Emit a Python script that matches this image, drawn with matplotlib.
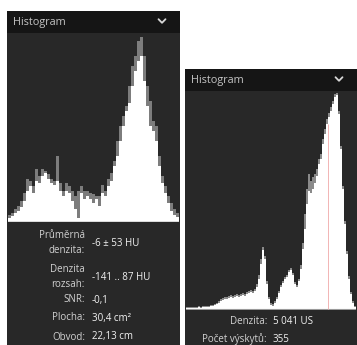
import matplotlib
matplotlib.use("Agg")
import matplotlib.pyplot as plt
from matplotlib.patches import Rectangle

W, H = 357, 345

# ---- data (heights, arbitrary count units) ----
left_body = [3, 5, 8, 10, 14, 20, 30, 35, 28, 40, 38, 45, 48, 42, 38, 36, 40, 30, 25, 30,
             28, 20, 12, 3, 28, 22, 25, 22, 18, 22, 15, 28, 25, 35, 40, 55, 65, 80, 95, 110,
             118, 135, 150, 160, 165, 140, 115, 95, 90, 80, 55, 38, 28, 18, 10, 6, 4]
left_peak = [6, 8, 12, 15, 20, 28, 42, 40, 35, 52, 45, 52, 50, 47, 42, 40, 65, 38, 30, 38,
             35, 30, 25, 30, 35, 30, 30, 28, 27, 25, 25, 36, 30, 42, 48, 60, 80, 95, 105, 115,
             135, 155, 165, 180, 184, 165, 135, 120, 100, 95, 65, 45, 35, 25, 18, 12, 8]

right_body = [1, 1, 1, 1, 1, 1, 2, 1, 2, 2, 2, 2,
              3, 3, 4, 5, 6, 8, 9, 10, 10, 11, 12, 11, 12, 13, 12, 13, 14, 13, 15, 16,
              17, 16, 18, 22, 30, 45, 59, 50, 25, 10, 4, 3, 6, 10, 16, 22, 26, 30, 32,
              37, 39, 34, 25, 22, 28, 40, 60, 80, 105, 118, 116, 120, 126, 133, 145, 150,
              165, 175, 185, 192, 198, 205, 212, 214, 195, 160, 120, 85, 55, 30, 15, 6, 2]
right_peak = [2, 2, 2, 2, 2, 2, 3, 2, 3, 3, 3, 3,
              4, 4, 5, 6, 8, 10, 11, 12, 12, 13, 14, 13, 14, 15, 14, 15, 16, 15, 17, 18,
              19, 18, 20, 25, 34, 50, 62, 53, 28, 12, 6, 5, 8, 12, 18, 24, 28, 32, 34,
              39, 41, 36, 27, 24, 30, 44, 66, 95, 120, 135, 128, 132, 135, 140, 150, 155,
              170, 180, 190, 196, 202, 208, 215, 216, 198, 163, 123, 88, 58, 33, 17, 8, 3]
cursor_bin = 70

left_labels = ["Průměrná\ndenzita:", "Denzita\nrozsah:", "SNR:", "Plocha:", "Obvod:"]
left_values = ["-6 ± 53 HU", "-141 .. 87 HU", "-0,1", "30,4 cm²", "22,13 cm"]
right_labels = ["Denzita:", "Počet výskytů:"]
right_values = ["5 041 US", "355"]
title = "Histogram"

HEADER = "#151515"
BODY = "#282828"
LABEL_C = "#d2d2d2"
VALUE_C = "#f2f2f2"
FONT = ["Open Sans", "DejaVu Sans"]
FS = 7.0

fig = plt.figure(figsize=(W / 100, H / 100), dpi=100)
fig.patch.set_facecolor("white")


def rect(x0, y0, x1, y1):
    return [x0 / W, 1 - y1 / H, (x1 - x0) / W, (y1 - y0) / H]


bg = fig.add_axes([0, 0, 1, 1])
bg.set_xlim(0, W)
bg.set_ylim(H, 0)
bg.axis("off")

# panels
for (x0, x1, ytop, yhead) in [(7, 180, 11, 33), (185, 357, 69, 91)]:
    bg.add_patch(Rectangle((x0, ytop), x1 - x0, yhead - ytop, color=HEADER, lw=0))
    bg.add_patch(Rectangle((x0, yhead), x1 - x0, H - yhead, color=BODY, lw=0))
    bg.text(x0 + 6, (ytop + yhead) / 2 + 0.5, title, color="#c4c4c4", fontsize=7.8,
            family=FONT, va="center", ha="left")
    cx, cy = x1 - 18, (ytop + yhead) / 2 - 1
    bg.plot([cx - 3.5, cx, cx + 3.5], [cy - 1.8, cy + 1.8, cy - 1.8], color="#d8d8d8", lw=1.3,
            solid_capstyle="round")

# left text block
ys = [243, 277, 300, 318, 337]
for lab, val, y in zip(left_labels, left_values, ys):
    bg.text(85, y, lab, color=LABEL_C, fontsize=FS, family=FONT, ha="right", va="center",
            linespacing=1.6)
    bg.text(92, y, val, color=VALUE_C, fontsize=FS, family=FONT, ha="left", va="center")

# right text block
for lab, val, y in zip(right_labels, right_values, [322, 339]):
    bg.text(267, y, lab, color=LABEL_C, fontsize=FS, family=FONT, ha="right", va="center")
    bg.text(273, y, val, color=VALUE_C, fontsize=FS, family=FONT, ha="left", va="center")

# left histogram
axl = fig.add_axes(rect(8, 33, 179, 222))
axl.set_facecolor(BODY)
xl = range(len(left_body))
axl.bar(xl, left_peak, width=1.0, color="#7d7d7d", lw=0)
axl.bar(xl, left_body, width=1.0, color="white", lw=0)
axl.axhline(0, color="white", lw=1.2)
axl.set_xlim(-0.5, len(left_body) - 0.5)
axl.set_ylim(-1, 188)
axl.axis("off")

# right histogram
axr = fig.add_axes(rect(186, 91, 356, 310))
xr = range(len(right_body))
axr.bar(xr, right_peak, width=1.0, color="#8a8a8a", lw=0)
axr.bar(xr, right_body, width=1.0, color="white", lw=0)
axr.axhline(0, color="#9a9a9a", lw=0.8)
axr.vlines(cursor_bin + 0.5, 0, right_body[cursor_bin], color="#f2b4b4", lw=0.7)
axr.set_xlim(-0.5, len(right_body) - 0.5)
axr.set_ylim(-1, 218)
axr.axis("off")

fig.savefig("out.png", dpi=100, facecolor="white")
